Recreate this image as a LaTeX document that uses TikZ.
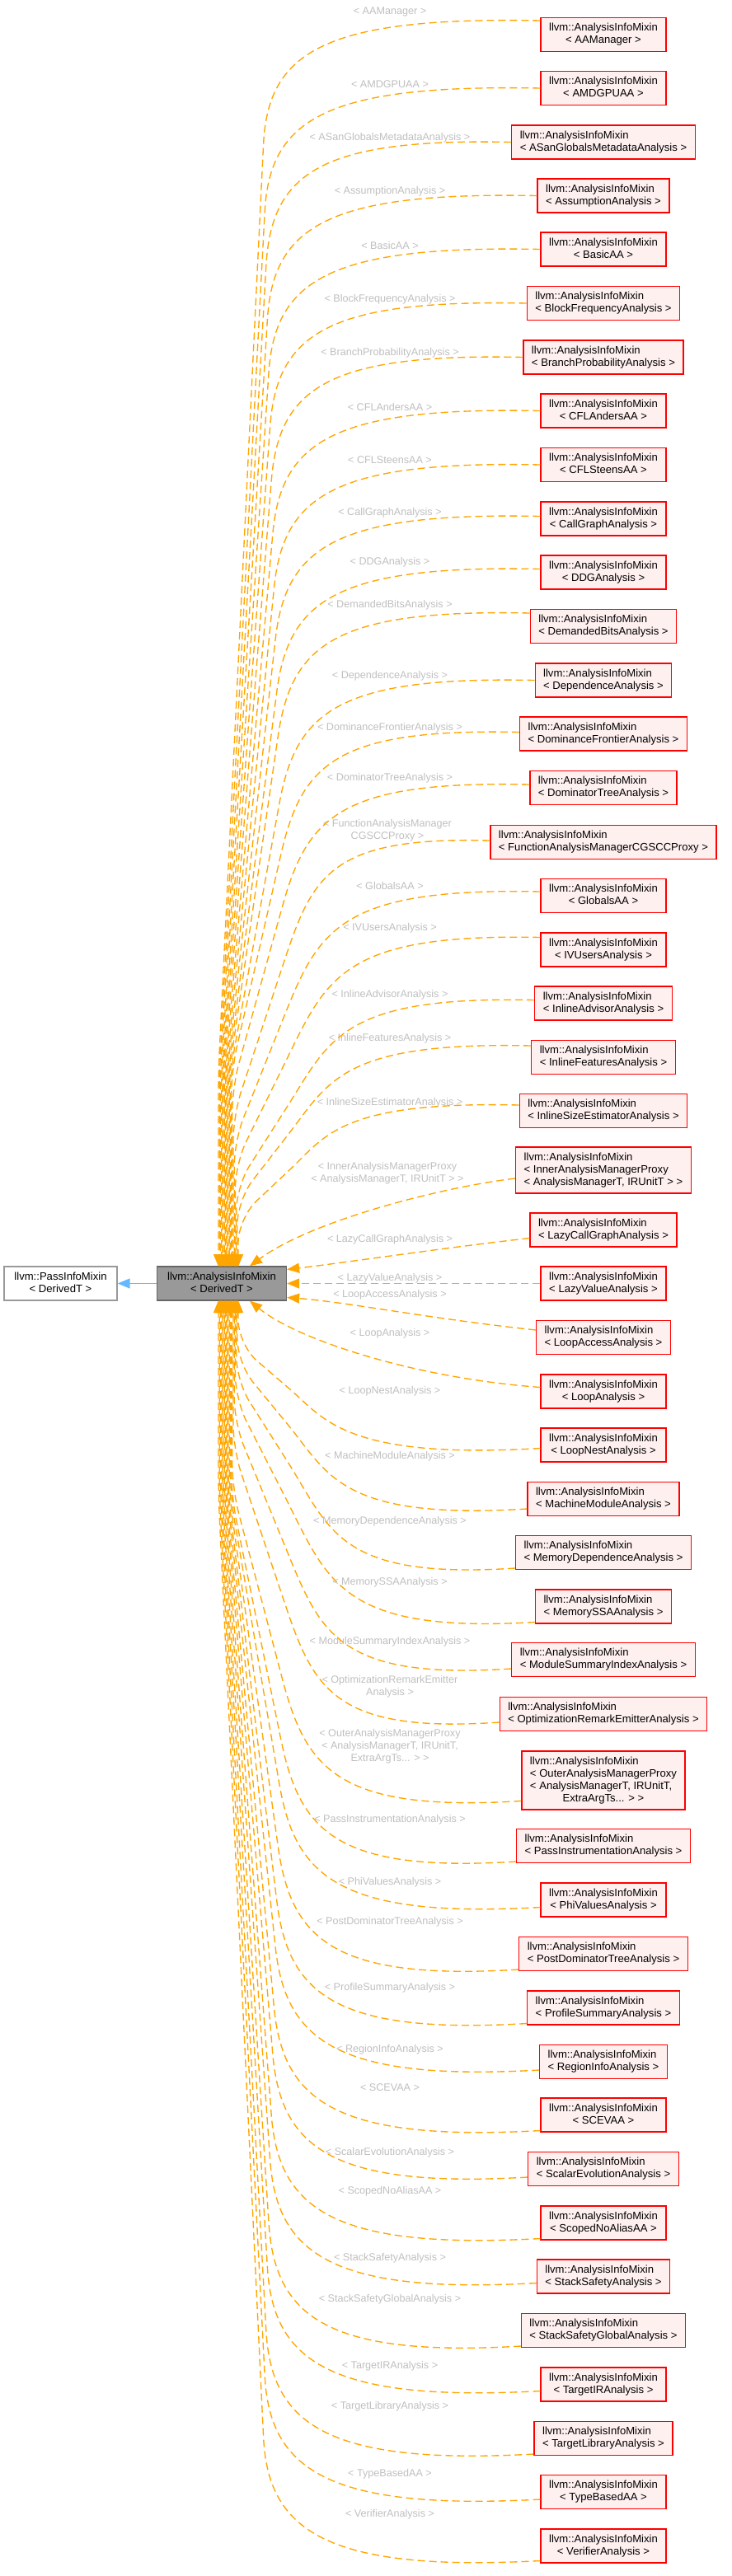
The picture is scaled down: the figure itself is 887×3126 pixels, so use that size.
\documentclass[tikz,border=0pt]{standalone}
\usepackage{fontspec}
\setmainfont{Liberation Sans}
\usetikzlibrary{arrows.meta,calc}
\definecolor{edgeorange}{HTML}{FFA500}
\definecolor{lblgray}{HTML}{BFBFBF}
\definecolor{dfill}{HTML}{FFF0F0}
\definecolor{cfill}{HTML}{999999}
\definecolor{cdraw}{HTML}{666666}
\definecolor{pdraw}{HTML}{999999}
\definecolor{inhblue}{HTML}{63B8FF}
\newcommand\tb[1]{\begin{tabular}{@{}l@{}}#1\end{tabular}}
\newcommand\lc[1]{\multicolumn{1}{@{}c@{}}{#1}}
\newcommand\aim{llvm::AnalysisInfoMixin}
\newcommand\nodefont{\fontsize{13.1}{15}\selectfont}
\newcommand\lblfont{\fontsize{12.6}{15}\selectfont}
% #1 node, #2 k, #3 dy (px, down), #4 end y (canvas pt), #5 sign, #6 bundle limit (canvas pt)
\newcommand\fanedge[6]{%
\draw[dep] let \p1=(#1.west),
  \n1={\x1},
  \n2={\y1-(#3)*1pt},
  \n3={(318+1.6*(#2))*1pt},
  \n4={(265+1.2*((#2)-1))*1pt},
  \n5={min(150pt,0.4*abs(\n2-(#4)))},
  \n6={\n2+(#5)*\n5},
  \n7={(#5)*max((#5)*(#6),(#5)*(\n6+0.5*((#4)-\n6)))},
  \n8={veclen(\n4-\n3,\n7-\n6)},
  \n9={\n3-(\n4-\n3)/\n8*0.75*\n5},
  \n{10}={\n6-(\n7-\n6)/\n8*0.75*\n5}
 in (\n1,\n2) .. controls ({\n3+0.22*(\n1-\n3)},{\n2-(#5)*(9.5+4.5*(#5))*1pt}) and (\n9,\n{10}) .. (\n3,\n6)
   [rounded corners=30pt] -- (\n4,\n7) -- (\n4,#4);}
\begin{document}
\begin{tikzpicture}[x=1pt,y=-1pt,
 box/.style={line width=1.3pt, inner xsep=10pt, inner ysep=5.5pt, font=\nodefont},
 dnode/.style={box, draw=red, fill=dfill},
 cnode/.style={box, draw=cdraw, fill=cfill},
 pnode/.style={box, draw=pdraw, fill=white},
 lbl/.style={text=lblgray, font=\lblfont, inner sep=0pt, align=center},
 dep/.style={draw=edgeorange, line width=1.35pt, dash pattern=on 9pt off 5pt, -{Triangle[length=15pt,width=12pt]}},
 inh/.style={draw=inhblue, line width=1.35pt, -{Triangle[length=15pt,width=12pt]}}]
\useasboundingbox (0,0) rectangle (887,3126);

% base nodes
\node[cnode, minimum width=157pt] (c) at (269,1557.5) {\tb{\aim\\\lc{< DerivedT >}}};
\node[pnode, minimum width=137pt] (p) at (73.5,1557.5) {\tb{llvm::PassInfoMixin\\\lc{< DerivedT >}}};
\draw[inh] (c.west) -- (p.east);

% derived nodes
\foreach \i/\ny/\t in {1/42/AAManager, 2/107/AMDGPUAA, 3/172.5/ASanGlobalsMetadataAnalysis,
  4/237.5/AssumptionAnalysis, 5/302.5/BasicAA, 6/368/BlockFrequencyAnalysis,
  7/433.5/BranchProbabilityAnalysis, 8/498.5/CFLAndersAA, 9/564/CFLSteensAA,
  10/629.5/CallGraphAnalysis, 11/694.5/DDGAnalysis, 12/760/DemandedBitsAnalysis,
  13/825.5/DependenceAnalysis, 14/890.5/DominanceFrontierAnalysis, 15/956/DominatorTreeAnalysis,
  16/1022/FunctionAnalysisManagerCGSCCProxy, 17/1087/GlobalsAA, 18/1152.5/IVUsersAnalysis,
  19/1217.5/InlineAdvisorAnalysis, 20/1283/InlineFeaturesAnalysis, 21/1348/InlineSizeEstimatorAnalysis,
  23/1492.5/LazyCallGraphAnalysis, 24/1557.5/LazyValueAnalysis, 25/1623/LoopAccessAnalysis,
  26/1688.5/LoopAnalysis, 27/1753.5/LoopNestAnalysis, 28/1819/MachineModuleAnalysis,
  29/1884/MemoryDependenceAnalysis, 30/1949.5/MemorySSAAnalysis, 31/2014/ModuleSummaryIndexAnalysis,
  32/2080/OptimizationRemarkEmitterAnalysis, 34/2240/PassInstrumentationAnalysis,
  35/2305.5/PhiValuesAnalysis, 36/2371/PostDominatorTreeAnalysis, 37/2436.5/ProfileSummaryAnalysis,
  38/2502/RegionInfoAnalysis, 39/2566.5/SCEVAA, 40/2632/ScalarEvolutionAnalysis,
  41/2697.5/ScopedNoAliasAA, 42/2762.5/StackSafetyAnalysis, 43/2828/StackSafetyGlobalAnalysis,
  44/2893.5/TargetIRAnalysis, 45/2959/TargetLibraryAnalysis, 46/3024/TypeBasedAA,
  47/3089.5/VerifierAnalysis}
  {\node[dnode] (n\i) at (732,\ny) {\tb{\aim\\\lc{< \t{} >}}};}
\node[dnode] (n22) at (732,1420) {\tb{\aim\\< InnerAnalysisManagerProxy\\\lc{< AnalysisManagerT, IRUnitT > >}}};
\node[dnode] (n33) at (732,2160.5) {\tb{\aim\\< OuterAnalysisManagerProxy\\< AnalysisManagerT, IRUnitT,\\\lc{ExtraArgTs... > >}}};

% labels
\foreach \i/\ly/\t in {1/14/AAManager, 2/102/AMDGPUAA, 3/167/ASanGlobalsMetadataAnalysis,
  4/232/AssumptionAnalysis, 5/298/BasicAA, 6/363/BlockFrequencyAnalysis,
  7/428/BranchProbabilityAnalysis, 8/494/CFLAndersAA, 9/558/CFLSteensAA,
  10/622/CallGraphAnalysis, 11/682/DDGAnalysis, 12/734/DemandedBitsAnalysis,
  13/820/DependenceAnalysis, 14/883/DominanceFrontierAnalysis, 15/944/DominatorTreeAnalysis,
  17/1075/GlobalsAA, 18/1126/IVUsersAnalysis, 19/1207/InlineAdvisorAnalysis,
  20/1260/InlineFeaturesAnalysis, 21/1338/InlineSizeEstimatorAnalysis,
  23/1504/LazyCallGraphAnalysis, 24/1551/LazyValueAnalysis, 25/1571/LoopAccessAnalysis,
  26/1618/LoopAnalysis, 27/1688/LoopNestAnalysis, 28/1767/MachineModuleAnalysis,
  29/1846/MemoryDependenceAnalysis, 30/1920/MemorySSAAnalysis, 31/1992/ModuleSummaryIndexAnalysis,
  34/2208/PassInstrumentationAnalysis, 35/2284/PhiValuesAnalysis, 36/2332/PostDominatorTreeAnalysis,
  37/2412/ProfileSummaryAnalysis, 38/2487/RegionInfoAnalysis, 39/2533/SCEVAA,
  40/2612/ScalarEvolutionAnalysis, 41/2659/ScopedNoAliasAA, 42/2740/StackSafetyAnalysis,
  43/2790/StackSafetyGlobalAnalysis, 44/2871/TargetIRAnalysis, 45/2920/TargetLibraryAnalysis,
  46/3002/TypeBasedAA, 47/3051/VerifierAnalysis}
  {\node[lbl] (l\i) at (473,\ly) {< \t{} >};}
\node[lbl] (l16) at (470,1007.5) {< FunctionAnalysisManager\\CGSCCProxy >};
\node[lbl] (l22) at (470,1423.5) {< InnerAnalysisManagerProxy\\< AnalysisManagerT, IRUnitT > >};
\node[lbl] (l32) at (473,2047) {< OptimizationRemarkEmitter\\Analysis >};
\node[lbl] (l33) at (473,2119) {< OuterAnalysisManagerProxy\\< AnalysisManagerT, IRUnitT,\\ExtraArgTs... > >};

% upper fan edges
\foreach \i/\d in {1/-17,2/0,3/0,4/0,5/0,6/0,7/0,8/0,9/0,10/-3,11/-4,12/-16,13/0,14/-2,15/-4,
  16/-2,17/-5,18/-15,19/-4,20/-14,21/-7}
  {\fanedge{n\i}{\i}{\d}{-1537pt}{-1}{-1300pt}}
% lower fan edges
\foreach \i/\d in {27/4,28/12,29/19,30/19,31/11,32/10,33/25,34/19,35/9,36/19,37/19,38/10,
  39/19,40/10,41/19,42/8,43/19,44/8,45/19,46/9,47/18}
  {\fanedge{n\i}{48-\i}{\d}{-1578pt}{1}{-1815pt}}
% near edges
\draw[dep] ($(n22.west)+(0,10)$) .. controls (540,1440) and (380,1480) .. ($(c.north)+(34,0)$);
\draw[dep] ($(n23.west)+(0,10)$) .. controls (540,1514) and (420,1532) .. ($(c.east)+(0,-17)$);
\draw[dep] (n24.west) -- (c.east);
\draw[dep] ($(n25.west)+(0,-9)$) .. controls (520,1600) and (420,1580) .. ($(c.east)+(0,17)$);
\draw[dep] ($(n26.west)+(0,-5)$) .. controls (500,1672) and (360,1625) .. ($(c.south)+(34,0)$);
\end{tikzpicture}
\end{document}
